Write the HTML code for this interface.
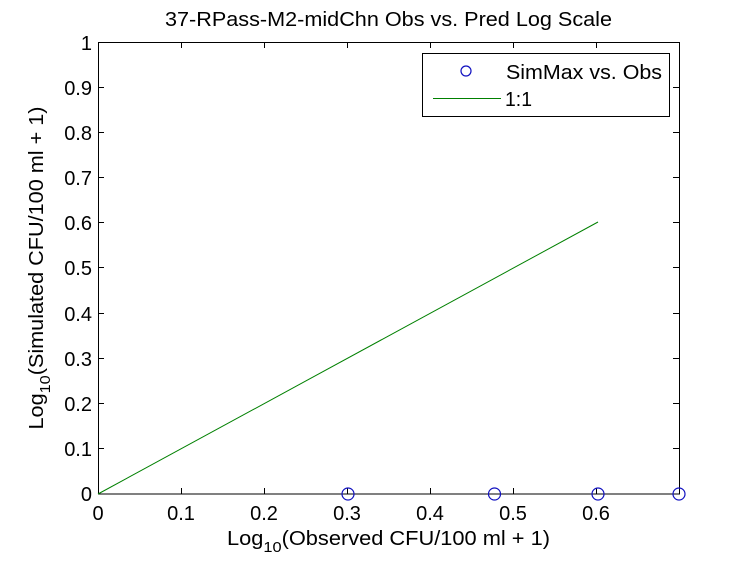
<!DOCTYPE html>
<html>
<head>
<meta charset="utf-8">
<style>
  html, body { margin: 0; padding: 0; background: #fff; }
  svg { display: block; }
  text { font-family: "Liberation Sans", Arial, sans-serif; fill: #000; }
</style>
</head>
<body>
<svg width="750" height="563" viewBox="0 0 750 563" xmlns="http://www.w3.org/2000/svg">
  <rect x="0" y="0" width="750" height="563" fill="#fff"/>

  <!-- Title -->
  <text x="388.5" y="26" font-size="20" text-anchor="middle" textLength="447" lengthAdjust="spacingAndGlyphs">37-RPass-M2-midChn Obs vs. Pred Log Scale</text>

  <!-- Axes box -->
  <rect x="98.5" y="42.5" width="581" height="451.5" fill="none" stroke="#000" stroke-width="1"/>

  <!-- X ticks bottom & top -->
  <g stroke="#000" stroke-width="1">
    <line x1="181.5" y1="494" x2="181.5" y2="488"/>
    <line x1="264.5" y1="494" x2="264.5" y2="488"/>
    <line x1="347.5" y1="494" x2="347.5" y2="488"/>
    <line x1="430.5" y1="494" x2="430.5" y2="488"/>
    <line x1="513.5" y1="494" x2="513.5" y2="488"/>
    <line x1="596.5" y1="494" x2="596.5" y2="488"/>
    <line x1="181.5" y1="42" x2="181.5" y2="48"/>
    <line x1="264.5" y1="42" x2="264.5" y2="48"/>
    <line x1="347.5" y1="42" x2="347.5" y2="48"/>
    <line x1="430.5" y1="42" x2="430.5" y2="48"/>
    <line x1="513.5" y1="42" x2="513.5" y2="48"/>
    <line x1="596.5" y1="42" x2="596.5" y2="48"/>
  </g>

  <!-- Y ticks left & right -->
  <g stroke="#000" stroke-width="1">
    <line x1="98" y1="448.5" x2="104" y2="448.5"/>
    <line x1="98" y1="403.5" x2="104" y2="403.5"/>
    <line x1="98" y1="358.5" x2="104" y2="358.5"/>
    <line x1="98" y1="313.5" x2="104" y2="313.5"/>
    <line x1="98" y1="267.5" x2="104" y2="267.5"/>
    <line x1="98" y1="222.5" x2="104" y2="222.5"/>
    <line x1="98" y1="177.5" x2="104" y2="177.5"/>
    <line x1="98" y1="132.5" x2="104" y2="132.5"/>
    <line x1="98" y1="87.5" x2="104" y2="87.5"/>
    <line x1="679" y1="448.5" x2="673" y2="448.5"/>
    <line x1="679" y1="403.5" x2="673" y2="403.5"/>
    <line x1="679" y1="358.5" x2="673" y2="358.5"/>
    <line x1="679" y1="313.5" x2="673" y2="313.5"/>
    <line x1="679" y1="267.5" x2="673" y2="267.5"/>
    <line x1="679" y1="222.5" x2="673" y2="222.5"/>
    <line x1="679" y1="177.5" x2="673" y2="177.5"/>
    <line x1="679" y1="132.5" x2="673" y2="132.5"/>
    <line x1="679" y1="87.5" x2="673" y2="87.5"/>
  </g>

  <!-- X tick labels -->
  <g font-size="20" text-anchor="middle">
    <text x="98" y="520">0</text>
    <text x="181" y="520">0.1</text>
    <text x="264" y="520">0.2</text>
    <text x="347" y="520">0.3</text>
    <text x="430" y="520">0.4</text>
    <text x="513" y="520">0.5</text>
    <text x="596" y="520">0.6</text>
  </g>

  <!-- Y tick labels -->
  <g font-size="20" text-anchor="end">
    <text x="92" y="501">0</text>
    <text x="92" y="456">0.1</text>
    <text x="92" y="411">0.2</text>
    <text x="92" y="366">0.3</text>
    <text x="92" y="321">0.4</text>
    <text x="92" y="275">0.5</text>
    <text x="92" y="230">0.6</text>
    <text x="92" y="185">0.7</text>
    <text x="92" y="140">0.8</text>
    <text x="92" y="95">0.9</text>
    <text x="92" y="50">1</text>
  </g>

  <!-- X label -->
  <text x="388.5" y="545" font-size="20" text-anchor="middle" textLength="323" lengthAdjust="spacingAndGlyphs">Log<tspan font-size="15" dy="7">10</tspan><tspan dy="-7">(Observed CFU/100 ml + 1)</tspan></text>

  <!-- Y label -->
  <text transform="translate(43,268) rotate(-90)" x="0" y="0" font-size="20" text-anchor="middle" textLength="323" lengthAdjust="spacingAndGlyphs">Log<tspan font-size="15" dy="7">10</tspan><tspan dy="-7">(Simulated CFU/100 ml + 1)</tspan></text>

  <!-- 1:1 line -->
  <line x1="98" y1="494" x2="598" y2="222" stroke="#008000" stroke-width="1"/>

  <!-- Data circles -->
  <g fill="none" stroke="#1010c0" stroke-width="1.2">
    <circle cx="348" cy="494" r="6"/>
    <circle cx="494.5" cy="494" r="6"/>
    <circle cx="598" cy="494" r="6"/>
    <circle cx="679" cy="494" r="6"/>
  </g>

  <!-- Legend -->
  <rect x="422.5" y="53.5" width="247" height="63" fill="#fff" stroke="#000" stroke-width="1"/>
  <circle cx="466" cy="71" r="5" fill="none" stroke="#1010c0" stroke-width="1.2"/>
  <text x="506" y="79" font-size="20" textLength="156" lengthAdjust="spacingAndGlyphs">SimMax vs. Obs</text>
  <line x1="433" y1="98.5" x2="501" y2="98.5" stroke="#008000" stroke-width="1"/>
  <text x="505" y="106" font-size="20" textLength="27" lengthAdjust="spacingAndGlyphs">1:1</text>
</svg>
</body>
</html>
